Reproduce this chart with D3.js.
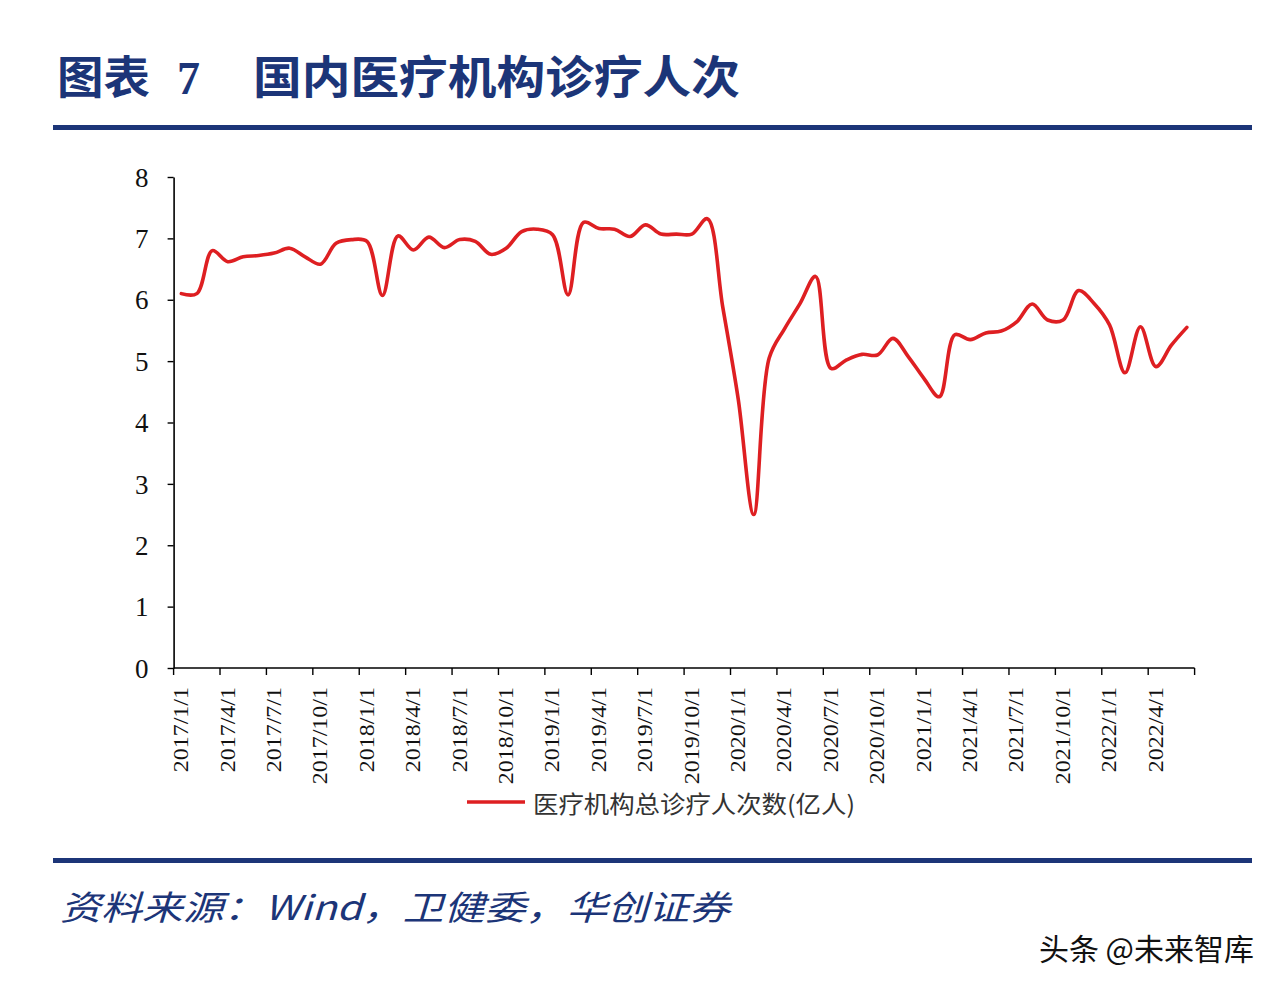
<!DOCTYPE html>
<html>
<head>
<meta charset="utf-8">
<script src="https://cdn.jsdelivr.net/npm/d3@7"></script>
<style>
  html, body { margin: 0; padding: 0; background: #fff; }
  svg { display: block; }
</style>
</head>
<body>
<svg id="chart" width="1282" height="994"></svg>
<script>
// ---- data ----
const categories = [
  "2017/1/1","2017/2/1","2017/3/1","2017/4/1","2017/5/1","2017/6/1","2017/7/1","2017/8/1","2017/9/1","2017/10/1","2017/11/1","2017/12/1",
  "2018/1/1","2018/2/1","2018/3/1","2018/4/1","2018/5/1","2018/6/1","2018/7/1","2018/8/1","2018/9/1","2018/10/1","2018/11/1","2018/12/1",
  "2019/1/1","2019/2/1","2019/3/1","2019/4/1","2019/5/1","2019/6/1","2019/7/1","2019/8/1","2019/9/1","2019/10/1","2019/11/1","2019/12/1",
  "2020/1/1","2020/2/1","2020/3/1","2020/4/1","2020/5/1","2020/6/1","2020/7/1","2020/8/1","2020/9/1","2020/10/1","2020/11/1","2020/12/1",
  "2021/1/1","2021/2/1","2021/3/1","2021/4/1","2021/5/1","2021/6/1","2021/7/1","2021/8/1","2021/9/1","2021/10/1","2021/11/1","2021/12/1",
  "2022/1/1","2022/2/1","2022/3/1","2022/4/1","2022/5/1","2022/6/1"
];
const visits = [
  6.10, 6.10, 6.80, 6.62, 6.70, 6.72, 6.76, 6.84, 6.70, 6.58, 6.92, 6.98,
  6.95, 6.07, 7.04, 6.81, 7.02, 6.85, 6.98, 6.95, 6.74, 6.84, 7.11, 7.15,
  7.06, 6.08, 7.26, 7.16, 7.15, 7.03, 7.22, 7.07, 7.07, 7.07, 7.32, 5.88,
  4.38, 2.50, 5.05, 5.53, 5.94, 6.38, 4.88, 5.02, 5.11, 5.10, 5.37, 5.07,
  4.72, 4.42, 5.43, 5.35, 5.46, 5.49, 5.64, 5.93, 5.67, 5.67, 6.15, 5.94,
  5.59, 4.81, 5.56, 4.91, 5.26, 5.55
];
const tickLabels = [
  "2017/1/1","2017/4/1","2017/7/1","2017/10/1","2018/1/1","2018/4/1","2018/7/1","2018/10/1",
  "2019/1/1","2019/4/1","2019/7/1","2019/10/1","2020/1/1","2020/4/1","2020/7/1","2020/10/1",
  "2021/1/1","2021/4/1","2021/7/1","2021/10/1","2022/1/1","2022/4/1"
];
const yTicks = [0, 1, 2, 3, 4, 5, 6, 7, 8];
const seriesName = "医疗机构总诊疗人次数(亿人)";
const titlePrefix = "图表";
const titleNum = "7";
const titleMain = "国内医疗机构诊疗人次";
const sourceText = "资料来源：Wind，卫健委，华创证券";
const watermark = "头条 @未来智库";

// ---- drawing ----
const svg = d3.select("#chart");
const navy = "#1c3578";
const red = "#de1f22";

svg.append("rect").attr("width", 1282).attr("height", 994).attr("fill", "#fff");

// title
const cjk = "'Noto Sans CJK SC', 'Noto Sans', sans-serif";
svg.append("text").attr("x", 57).attr("y", 94)
  .attr("font-family", cjk).attr("font-weight", 700).attr("font-size", 45)
  .attr("fill", navy).attr("textLength", 93).attr("lengthAdjust", "spacingAndGlyphs")
  .text(titlePrefix);
svg.append("text").attr("x", 177).attr("y", 94)
  .attr("font-family", "'Liberation Serif', serif").attr("font-weight", 700).attr("font-size", 46)
  .attr("fill", navy).text(titleNum);
svg.append("text").attr("x", 253).attr("y", 94)
  .attr("font-family", cjk).attr("font-weight", 700).attr("font-size", 45)
  .attr("fill", navy).attr("textLength", 487).attr("lengthAdjust", "spacingAndGlyphs")
  .text(titleMain);

// rules
svg.append("rect").attr("x", 53).attr("y", 125).attr("width", 1199).attr("height", 5).attr("fill", navy);
svg.append("rect").attr("x", 53).attr("y", 858).attr("width", 1199).attr("height", 5).attr("fill", navy);

// scales
const x = d3.scaleBand().domain(categories).range([173.6, 1194.6]).paddingInner(0).paddingOuter(0);
const y = d3.scaleLinear().domain([0, 8]).range([668, 177]);

const g = svg.append("g");

// y axis
const yAxis = g.append("g").attr("transform", "translate(173.6,0)")
  .call(d3.axisLeft(y).tickValues(yTicks).tickSize(6).tickSizeOuter(0).tickPadding(19).tickFormat(d3.format("d")));
yAxis.select(".domain").attr("stroke", "#000").attr("stroke-width", 1.6);
yAxis.selectAll(".tick line").attr("stroke", "#000").attr("stroke-width", 1.4);
yAxis.selectAll(".tick text")
  .attr("font-family", "'Liberation Serif', 'Times New Roman', serif")
  .attr("font-size", 27).attr("fill", "#111")
  .attr("dy", "0.34em");

// x axis: line, tick marks at band boundaries every 3 months + end
const xAxisG = g.append("g").attr("transform", "translate(0,668)");
xAxisG.append("line").attr("x1", x.range()[0]).attr("x2", x.range()[1])
  .attr("y1", 0).attr("y2", 0).attr("stroke", "#000").attr("stroke-width", 1.6);
const tickPos = tickLabels.map(c => x(c)).concat([x.range()[1]]);
xAxisG.selectAll("line.tk").data(tickPos).join("line").attr("class", "tk")
  .attr("x1", d => d).attr("x2", d => d).attr("y1", 0).attr("y2", 7)
  .attr("stroke", "#000").attr("stroke-width", 1.4);
xAxisG.selectAll("text.lbl").data(tickLabels).join("text").attr("class", "lbl")
  .attr("transform", d => `translate(${x(d) + x.bandwidth() / 2},19) rotate(-90) scale(1.2,1)`)
  .attr("text-anchor", "end").attr("dominant-baseline", "central")
  .attr("font-family", "'Liberation Serif', 'Times New Roman', serif")
  .attr("font-size", 20).attr("fill", "#111")
  .text(d => d);

// line
const line = d3.line()
  .x((d, i) => x(categories[i]) + x.bandwidth() / 2)
  .y(d => y(d))
  .curve(d3.curveCatmullRom.alpha(0.5));
g.append("path").datum(visits)
  .attr("d", line).attr("fill", "none")
  .attr("stroke", red).attr("stroke-width", 3.6)
  .attr("stroke-linejoin", "round").attr("stroke-linecap", "round");

// legend
svg.append("line").attr("x1", 467).attr("x2", 525).attr("y1", 802).attr("y2", 802)
  .attr("stroke", red).attr("stroke-width", 3.6);
svg.append("text").attr("x", 533).attr("y", 802)
  .attr("dominant-baseline", "central")
  .attr("font-family", cjk).attr("font-size", 24).attr("fill", "#333")
  .attr("textLength", 322).attr("lengthAdjust", "spacingAndGlyphs")
  .text(seriesName);

// source
svg.append("text").attr("x", 60).attr("y", 920)
  .attr("font-family", cjk).attr("font-style", "italic").attr("font-size", 34).attr("fill", navy)
  .attr("textLength", 670).attr("lengthAdjust", "spacingAndGlyphs")
  .text(sourceText);

// watermark
svg.append("text").attr("x", 1254).attr("y", 960).attr("text-anchor", "end")
  .attr("font-family", cjk).attr("font-size", 30).attr("fill", "#111")
  .text(watermark);
</script>
</body>
</html>
